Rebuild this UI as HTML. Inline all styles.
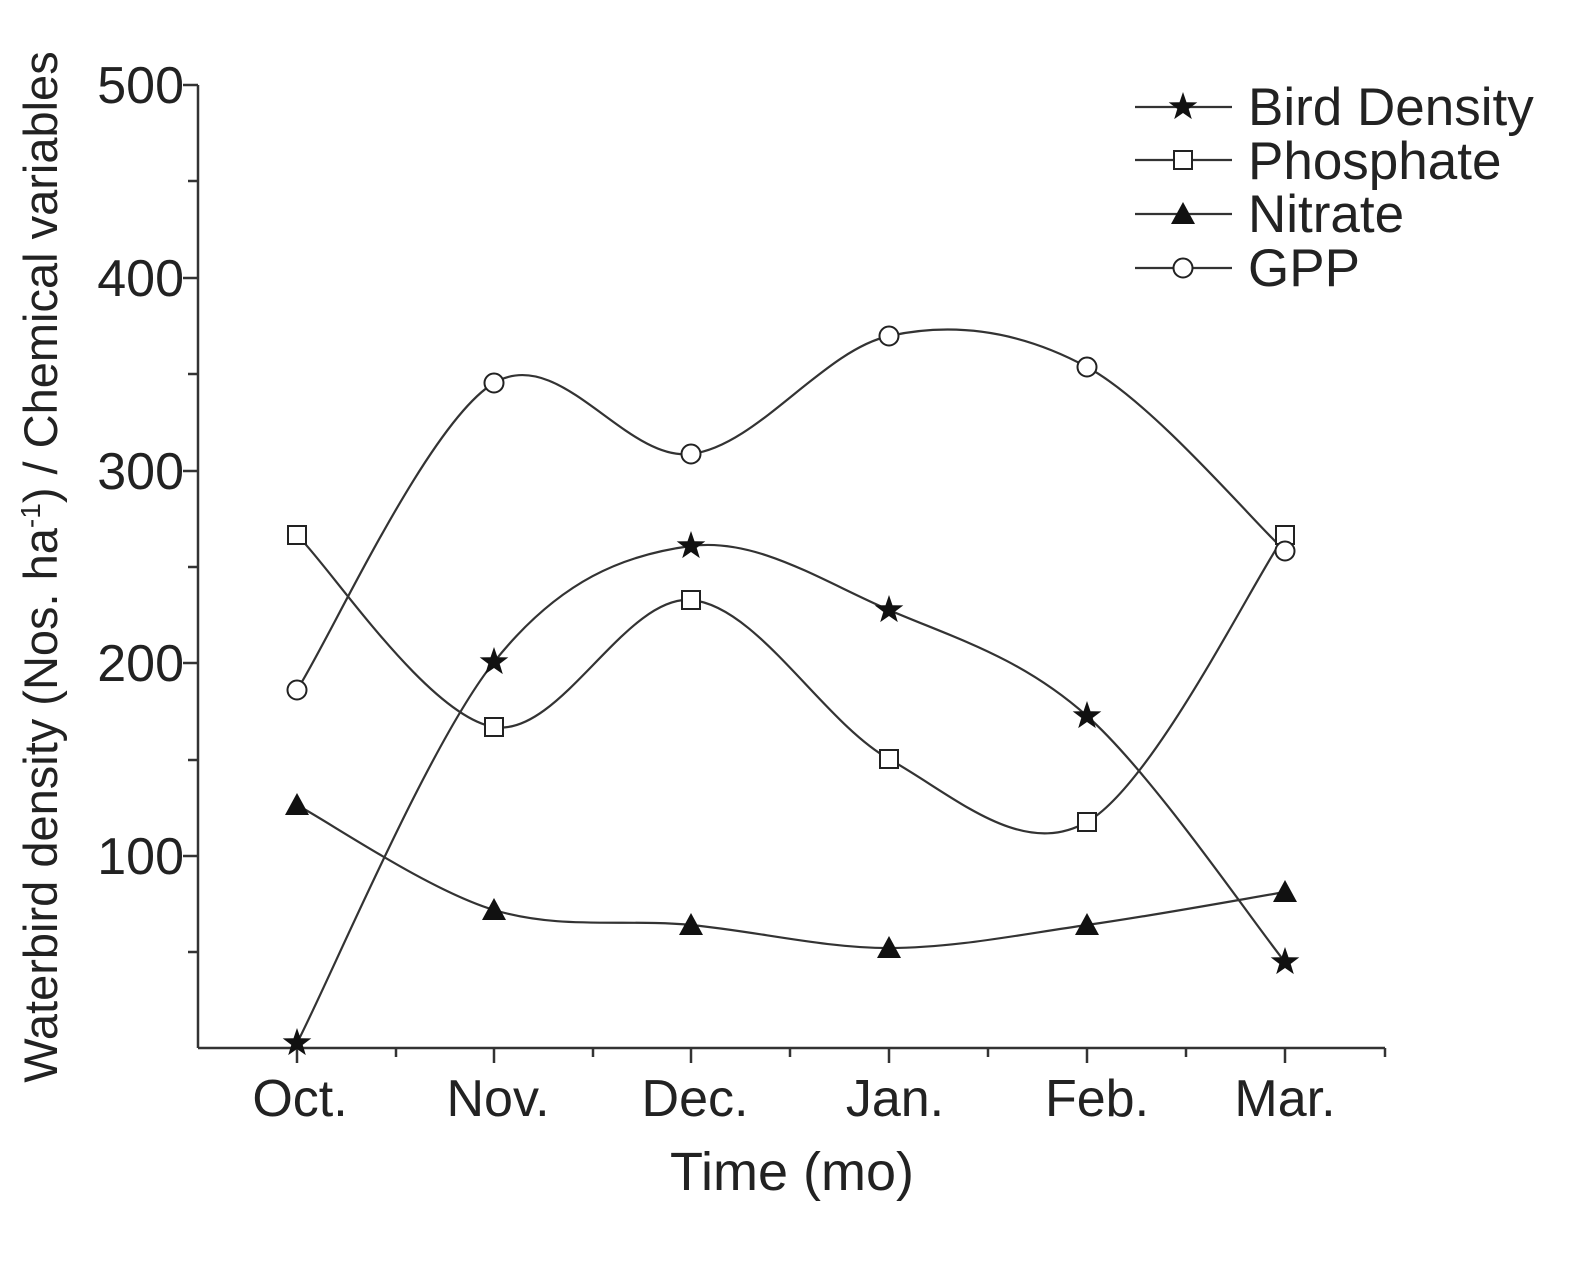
<!DOCTYPE html>
<html><head><meta charset="utf-8"><style>body{margin:0;background:#fff}svg{display:block}</style></head><body>
<svg width="1594" height="1268" viewBox="0 0 1594 1268" xmlns="http://www.w3.org/2000/svg" font-family="Liberation Sans, Arial, sans-serif">
<defs>
<polygon id="star" points="0,-15 3.5,-4.8 14.3,-4.6 5.7,1.9 8.8,12.1 0,6 -8.8,12.1 -5.7,1.9 -14.3,-4.6 -3.5,-4.8" fill="#111"/>
<rect id="sq" x="-9" y="-9" width="18" height="18" fill="#fff" stroke="#222" stroke-width="2"/>
<polygon id="tri" points="0,-12 12,10 -12,10" fill="#111"/>
<circle id="cir" r="9.5" fill="#fff" stroke="#222" stroke-width="2"/>
</defs>
<g stroke="#333" stroke-width="2.5" fill="none">
<line x1="198" y1="85" x2="198" y2="1048"/>
<line x1="198" y1="1048" x2="1385" y2="1048"/>
<line x1="183" y1="85" x2="198" y2="85"/><line x1="188" y1="181" x2="198" y2="181"/>
<line x1="183" y1="278" x2="198" y2="278"/><line x1="188" y1="374" x2="198" y2="374"/>
<line x1="183" y1="471" x2="198" y2="471"/><line x1="188" y1="567" x2="198" y2="567"/>
<line x1="183" y1="663" x2="198" y2="663"/><line x1="188" y1="760" x2="198" y2="760"/>
<line x1="183" y1="856" x2="198" y2="856"/><line x1="188" y1="952" x2="198" y2="952"/>
<line x1="297" y1="1048" x2="297" y2="1063"/><line x1="494" y1="1048" x2="494" y2="1063"/>
<line x1="691" y1="1048" x2="691" y2="1063"/><line x1="889" y1="1048" x2="889" y2="1063"/>
<line x1="1087" y1="1048" x2="1087" y2="1063"/><line x1="1285" y1="1048" x2="1285" y2="1063"/>
<line x1="396" y1="1048" x2="396" y2="1057"/><line x1="593" y1="1048" x2="593" y2="1057"/>
<line x1="790" y1="1048" x2="790" y2="1057"/><line x1="988" y1="1048" x2="988" y2="1057"/>
<line x1="1186" y1="1048" x2="1186" y2="1057"/><line x1="1385" y1="1048" x2="1385" y2="1057"/>
</g>
<g font-size="52" fill="#222" text-anchor="end">
<text x="184" y="103">500</text><text x="184" y="296">400</text><text x="184" y="489">300</text>
<text x="184" y="681">200</text><text x="184" y="874">100</text>
</g>
<g font-size="52" fill="#222" text-anchor="middle">
<text x="300" y="1116">Oct.</text><text x="498" y="1116">Nov.</text><text x="695" y="1116">Dec.</text>
<text x="895" y="1116">Jan.</text><text x="1097" y="1116">Feb.</text><text x="1285" y="1116">Mar.</text>
<text x="792" y="1190" font-size="54">Time (mo)</text>
<text transform="translate(57,567) rotate(-90)" font-size="47">Waterbird density (Nos. ha<tspan font-size="28" dy="-17">-1</tspan><tspan dy="17">) / Chemical variables</tspan></text>
</g>
<g stroke="#333" stroke-width="2.2" fill="none">
<path d="M297,1043 C330,979.5 428,744.8 494,662 C560,579.2 625,554.7 691,546 C757,537.3 823,581.7 889,610 C955,638.3 1021,657.3 1087,716 C1153,774.7 1252,921 1285,962"/>
<path d="M297,535 C330,567 428,716.2 494,727 C560,737.8 625,594.7 691,600 C757,605.3 823,722 889,759 C955,796 1021,859.3 1087,822 C1153,784.7 1252,582.8 1285,535"/>
<path d="M297,805 C330,822.5 428,890 494,910 C560,930 625,918.7 691,925 C757,931.3 823,948 889,948 C955,948 1021,934.3 1087,925 C1153,915.7 1252,897.5 1285,892"/>
<path d="M297,690 C330,638.8 428,422.3 494,383 C560,343.7 625,461.8 691,454 C757,446.2 823,350.5 889,336 C955,321.5 1021,331.2 1087,367 C1153,402.8 1252,520.3 1285,551"/>
</g>
<g>
<use href="#sq" x="297" y="535"/><use href="#sq" x="494" y="727"/><use href="#sq" x="691" y="600"/><use href="#sq" x="889" y="759"/><use href="#sq" x="1087" y="822"/><use href="#sq" x="1285" y="535"/>
<use href="#cir" x="297" y="690"/><use href="#cir" x="494" y="383"/><use href="#cir" x="691" y="454"/><use href="#cir" x="889" y="336"/><use href="#cir" x="1087" y="367"/><use href="#cir" x="1285" y="551"/>
<use href="#tri" x="297" y="805"/><use href="#tri" x="494" y="910"/><use href="#tri" x="691" y="925"/><use href="#tri" x="889" y="948"/><use href="#tri" x="1087" y="925"/><use href="#tri" x="1285" y="892"/>
<use href="#star" x="297" y="1043"/><use href="#star" x="494" y="662"/><use href="#star" x="691" y="546"/><use href="#star" x="889" y="610"/><use href="#star" x="1087" y="716"/><use href="#star" x="1285" y="962"/>
</g>
<g stroke="#333" stroke-width="2.2">
<line x1="1135" y1="107" x2="1232" y2="107"/><line x1="1135" y1="160" x2="1232" y2="160"/>
<line x1="1135" y1="214" x2="1232" y2="214"/><line x1="1135" y1="268" x2="1232" y2="268"/>
</g>
<use href="#star" x="1183" y="107"/><use href="#sq" x="1183" y="160"/><use href="#tri" x="1183" y="214"/><use href="#cir" x="1183" y="268"/>
<g font-size="53" fill="#222">
<text x="1248" y="125">Bird Density</text><text x="1248" y="179">Phosphate</text>
<text x="1248" y="232">Nitrate</text><text x="1248" y="286">GPP</text>
</g>
</svg>
</body></html>
